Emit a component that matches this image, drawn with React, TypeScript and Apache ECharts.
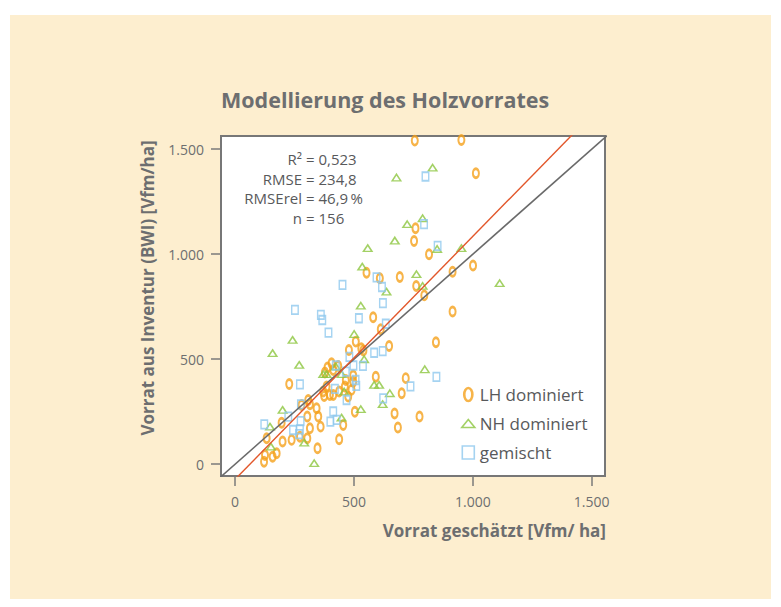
import React, { useEffect, useRef } from 'react';
import * as echarts from 'echarts';

// ---- data (Vfm/ha): [geschätzt, Inventur] ----
const lhPoints: number[][] = [
  [756, 1541], [952, 1544], [1013, 1386], [759, 1124], [753, 1063], [816, 1000], [1001, 946], [915, 917], [693, 892], [762, 849],
  [796, 804], [915, 727], [845, 581], [718, 410], [553, 912], [609, 886], [581, 700], [613, 643], [508, 584], [648, 563],
  [479, 544], [531, 552], [540, 542], [592, 417], [497, 423], [701, 338], [671, 242], [776, 227], [685, 175], [504, 250],
  [455, 187], [228, 382], [406, 481], [389, 461], [378, 437], [434, 468], [413, 449], [466, 401], [462, 370], [490, 354],
  [476, 322], [438, 346], [385, 370], [375, 325], [413, 330], [308, 306], [315, 286], [343, 267], [280, 282], [350, 227],
  [304, 227], [196, 198], [133, 124], [200, 108], [238, 116], [273, 131], [315, 171], [304, 124], [360, 179], [438, 119],
  [347, 76], [126, 44], [122, 12], [158, 36], [175, 52], [497, 393], [399, 330], [371, 346],
];
const nhPoints: number[][] = [
  [679, 1365], [831, 1412], [724, 1143], [789, 1171], [850, 1025], [952, 1029], [763, 905], [789, 849], [1113, 862], [798, 452],
  [558, 1029], [672, 1065], [535, 941], [637, 822], [529, 755], [501, 620], [242, 592], [158, 529], [270, 473], [543, 500],
  [424, 465], [371, 429], [385, 429], [448, 429], [585, 378], [606, 378], [459, 346], [651, 338], [621, 286], [529, 262],
  [448, 222], [200, 259], [147, 179], [151, 84], [291, 103], [333, 5],
];
const mixPoints: number[][] = [
  [801, 1370], [795, 1143], [852, 1040], [847, 416], [452, 854], [252, 735], [361, 711], [367, 687], [393, 627], [521, 695],
  [595, 890], [618, 844], [622, 767], [634, 669], [585, 531], [621, 539], [481, 511], [498, 470], [538, 468], [424, 470],
  [466, 441], [507, 401], [420, 359], [510, 373], [273, 380], [623, 314], [738, 371], [277, 285], [413, 251], [401, 203],
  [427, 211], [123, 190], [224, 227], [276, 205], [244, 163], [273, 166], [269, 143], [469, 306],
];
const seriesNames = ['LH dominiert', 'NH dominiert', 'gemischt'];
const tickValues = [0, 500, 1000, 1500];
const statLabels = ['R²', 'RMSE', 'RMSErel', 'n'];
const statValues = ['= 0,523', '= 234,8', '= 46,9\u2009%', '= 156'];
// regression line of Inventur on geschätzt
const fitSlope = 1.157;
const fitIntercept = -72;

const X_MIN = -59, X_MAX = 1556, Y_MIN = -56, Y_MAX = 1563;
const FONT = '"Open Sans", "Noto Sans", sans-serif';
const GREY = '#6d6e70';
const ELLIPSE = 'path://M2.5,0C3.88,0,5,1.79,5,4C5,6.21,3.88,8,2.5,8C1.12,8,0,6.21,0,4C0,1.79,1.12,0,2.5,0Z';
const TRI_ICON = 'path://M6.5,0L13,8L0,8Z';
const SQ_ICON = 'path://M0,0L12,0L12,13L0,13Z';

const fmt = (v: number) =>
  v >= 1000 ? `${Math.floor(v / 1000)}.${String(v % 1000).padStart(3, '0')}` : String(v);

export default function App() {
  const ref = useRef<HTMLDivElement>(null);
  useEffect(() => {
    const chart = echarts.init(ref.current!, null, { renderer: 'svg' });
    const xLo = -200, xHi = 1800;
    const statGraphics: any[] = [];
    statLabels.forEach((lab, i) => {
      const y = 159 + i * 19.7;
      statGraphics.push({
        type: 'text', x: 302, y, z: 50,
        style: { text: lab, align: 'right', textAlign: 'right', verticalAlign: 'middle', textVerticalAlign: 'middle', font: `15px ${FONT}`, fill: '#58595b' },
      });
      statGraphics.push({
        type: 'text', x: 306, y, z: 50,
        style: { text: statValues[i], align: 'left', textAlign: 'left', verticalAlign: 'middle', textVerticalAlign: 'middle', font: `15px ${FONT}`, fill: '#58595b' },
      });
    });
    const axisCommon = {
      axisLine: { show: false, onZero: false },
      axisTick: { show: true, inside: false, customValues: tickValues, length: 10, lineStyle: { color: '#7a7a7a', width: 1.5 } },
      splitLine: { show: false },
    };
    const option: any = {
      animation: false,
      backgroundColor: 'transparent',
      title: {
        text: 'Modellierung des Holzvorrates', left: 221, top: 88, padding: 0,
        textStyle: { fontFamily: FONT, fontSize: 21.5, fontWeight: 'bold', color: GREY },
      },
      grid: {
        left: 221, top: 136, right: 176, bottom: 131, show: true,
        borderColor: '#777777', borderWidth: 2, backgroundColor: '#ffffff',
        containLabel: false, outerBoundsMode: 'none',
      },
      legend: {
        orient: 'vertical', left: 461, top: 386, padding: 0, itemGap: 12,
        itemWidth: 13, itemHeight: 13,
        textStyle: { fontFamily: FONT, fontSize: 17, color: '#58595b' },
        data: [
          { name: seriesNames[0], icon: ELLIPSE, itemStyle: { color: 'rgba(0,0,0,0)', borderColor: '#f5a11c', borderWidth: 2.6 } },
          { name: seriesNames[1], icon: TRI_ICON, itemStyle: { color: 'rgba(0,0,0,0)', borderColor: '#8cc63f', borderWidth: 1.6 } },
          { name: seriesNames[2], icon: SQ_ICON, itemStyle: { color: 'rgba(0,0,0,0)', borderColor: '#8fc8ee', borderWidth: 1.6 } },
        ],
      },
      xAxis: {
        type: 'value', min: X_MIN, max: X_MAX, position: 'bottom', ...axisCommon,
        axisLabel: { customValues: tickValues, formatter: fmt, margin: 18, fontFamily: FONT, fontSize: 14, color: GREY },
      },
      yAxis: {
        type: 'value', min: Y_MIN, max: Y_MAX, position: 'left', ...axisCommon,
        axisLabel: { customValues: tickValues, formatter: fmt, margin: 17, fontFamily: FONT, fontSize: 14, color: GREY },
      },
      graphic: [
        ...statGraphics,
        {
          type: 'text', x: 606, y: 530,
          style: { text: 'Vorrat geschätzt [Vfm/ ha]', align: 'right', textAlign: 'right', verticalAlign: 'middle', textVerticalAlign: 'middle', font: `bold 17px ${FONT}`, fill: GREY },
        },
        {
          type: 'text', x: 147, y: 288, rotation: Math.PI / 2,
          style: { text: 'Vorrat aus Inventur (BWI) [Vfm/ha]', align: 'center', textAlign: 'center', verticalAlign: 'middle', textVerticalAlign: 'middle', font: `bold 17px ${FONT}`, fill: GREY },
        },
      ],
      series: [
        {
          name: seriesNames[0], type: 'scatter', data: lhPoints, symbol: ELLIPSE, symbolSize: [6, 9], z: 3,
          itemStyle: { color: 'rgba(0,0,0,0)', borderColor: '#f5a11c', borderWidth: 2.4 },
        },
        {
          name: seriesNames[1], type: 'scatter', data: nhPoints, symbol: 'triangle', symbolSize: [8.5, 6.5], z: 3,
          itemStyle: { color: 'rgba(0,0,0,0)', borderColor: '#8cc63f', borderWidth: 1.5 },
        },
        {
          name: seriesNames[2], type: 'scatter', data: mixPoints, symbol: 'rect', symbolSize: [6.5, 8.5], z: 3,
          itemStyle: { color: 'rgba(0,0,0,0)', borderColor: '#8fc8ee', borderWidth: 1.6 },
        },
        {
          name: '1:1', type: 'line', data: [[xLo, xLo], [xHi, xHi]], symbol: 'none', clip: true, silent: true, z: 5,
          lineStyle: { color: '#6a6a6a', width: 1.6 },
        },
        {
          name: 'Regression', type: 'line', silent: true, symbol: 'none', clip: true, z: 5,
          data: [[xLo, fitSlope * xLo + fitIntercept], [xHi, fitSlope * xHi + fitIntercept]],
          lineStyle: { color: '#e2572b', width: 1.4 },
        },
      ],
    };
    chart.setOption(option);
    return () => chart.dispose();
  }, []);
  return (
    <div style={{ position: 'absolute', left: 0, top: 0, width: 781, height: 607, background: '#ffffff' }}>
      <div style={{ position: 'absolute', left: 10, top: 15, width: 761, height: 584, background: '#fdeecf' }} />
      <div ref={ref} style={{ position: 'absolute', left: 0, top: 0, width: 781, height: 607 }} />
    </div>
  );
}
